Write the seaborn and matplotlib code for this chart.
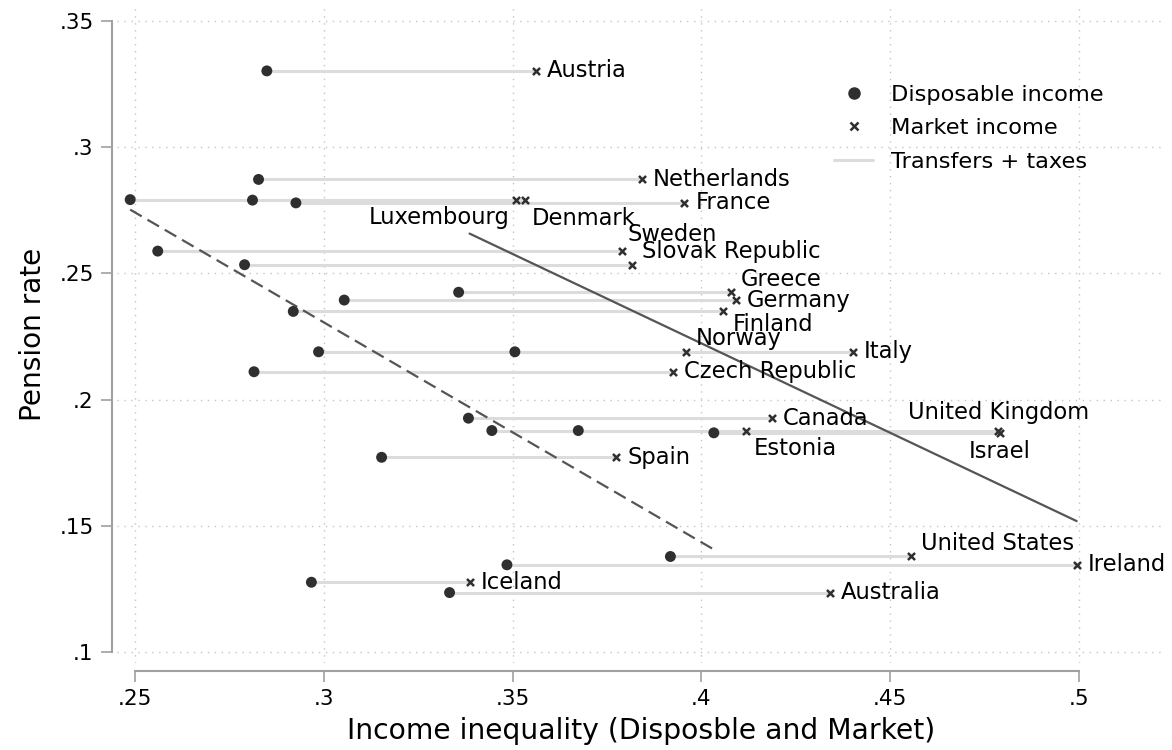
import numpy as np
import pandas as pd
import seaborn as sns
import matplotlib.pyplot as plt
from matplotlib.lines import Line2D

# Values
countries = ['Austria', 'Netherlands', 'Luxembourg', 'Denmark', 'France', 'Sweden',
             'Slovak Republic', 'Greece', 'Germany', 'Finland', 'Norway', 'Italy',
             'Czech Republic', 'Canada', 'Estonia', 'United Kingdom', 'Israel',
             'Spain', 'United States', 'Ireland', 'Iceland', 'Australia']
disposable = [0.2849, 0.2827, 0.2487, 0.2811, 0.2926, 0.2560,
              0.2790, 0.3357, 0.3054, 0.2919, 0.2986, 0.3506,
              0.2815, 0.3383, 0.3674, 0.3445, 0.4033,
              0.3153, 0.3918, 0.3485, 0.2967, 0.3333]
market = [0.3561, 0.3843, 0.3509, 0.3533, 0.3955, 0.3789,
          0.3817, 0.4078, 0.4092, 0.4056, 0.3958, 0.4402,
          0.3924, 0.4187, 0.4119, 0.4786, 0.4791,
          0.3774, 0.4556, 0.4994, 0.3386, 0.4341]
pension = [0.3302, 0.2872, 0.2792, 0.2790, 0.2779, 0.2588,
           0.2534, 0.2425, 0.2394, 0.2349, 0.2189, 0.2189,
           0.2110, 0.1926, 0.1877, 0.1877, 0.1868,
           0.1771, 0.1378, 0.1345, 0.1276, 0.1235]

x_ticks = [0.25, 0.30, 0.35, 0.40, 0.45, 0.50]
x_tick_labels = ['.25', '.3', '.35', '.4', '.45', '.5']
y_ticks = [0.10, 0.15, 0.20, 0.25, 0.30, 0.35]
y_tick_labels = ['.1', '.15', '.2', '.25', '.3', '.35']

df = pd.DataFrame({'country': countries, 'disp': disposable,
                   'market': market, 'pension': pension})

# label placement (Stata-like clock positions)
label_pos = {'Luxembourg': 7, 'Denmark': 5, 'Sweden': 1, 'Slovak Republic': 2,
             'Greece': 2, 'Finland': 4, 'Norway': 2, 'United Kingdom': 12,
             'Estonia': 5, 'Israel': 6, 'United States': 2}
# offsets in pixels -> (dx, dy, ha)
clock = {3: (11, 0, 'left'), 2: (10, 13, 'left'), 4: (10, -13, 'left'),
         1: (6, 17, 'left'), 5: (7, -18, 'left'), 7: (-7, -18, 'right'),
         12: (0, 18, 'center'), 6: (0, -19, 'center')}

sns.set_style('white')
plt.rcParams['font.family'] = ['DejaVu Sans']
plt.rcParams['text.color'] = 'black'
plt.rcParams['axes.labelcolor'] = 'black'

dark = '#2f2f2f'
fig, ax = plt.subplots(figsize=(11.72, 7.5), dpi=100)
fig.subplots_adjust(left=0.0998, right=0.994, bottom=0.116, top=0.9933)

# transfers + taxes segments
ax.hlines(df['pension'], df['disp'], df['market'], color='#dcdcdc', lw=2.2, zorder=2)

# linear fits
sns.regplot(data=df, x='disp', y='pension', scatter=False, ci=None, ax=ax,
            line_kws=dict(color='#555555', lw=1.6, ls=(0, (6, 3)), zorder=3))
sns.regplot(data=df, x='market', y='pension', scatter=False, ci=None, ax=ax,
            line_kws=dict(color='#555555', lw=1.6, zorder=3))

sns.scatterplot(data=df, x='disp', y='pension', marker='o', s=62, color=dark,
                edgecolor='none', ax=ax, zorder=5)
sns.scatterplot(data=df, x='market', y='pension', marker='x', s=26, color=dark,
                linewidth=1.8, ax=ax, zorder=5)

for _, r in df.iterrows():
    dx, dy, ha = clock[label_pos.get(r['country'], 3)]
    ax.annotate(r['country'], (r['market'], r['pension']),
                xytext=(dx * 0.72, dy * 0.72), textcoords='offset points',
                ha=ha, va='center', fontsize=16.3, color='black', zorder=6)

ax.set_xlim(0.2452, 0.5228)
ax.set_ylim(0.0956, 0.3563)
ax.set_xticks(x_ticks)
ax.set_xticklabels(x_tick_labels)
ax.set_yticks(y_ticks)
ax.set_yticklabels(y_tick_labels)
ax.tick_params(axis='both', left=True, bottom=True, labelsize=15.5, length=8,
               width=1.2, color='#a0a0a0', pad=5, labelcolor='black')
ax.grid(True, ls=(0, (1, 4)), color='#c4c4c4', lw=1.0)

for s in ['top', 'right']:
    ax.spines[s].set_visible(False)
ax.spines['left'].set_position(('outward', 3.8))
ax.spines['bottom'].set_position(('outward', 5.5))
ax.spines['left'].set_bounds(0.10, 0.35)
ax.spines['bottom'].set_bounds(0.25, 0.50)
for s in ['left', 'bottom']:
    ax.spines[s].set_color('#a0a0a0')
    ax.spines[s].set_linewidth(1.5)

ax.set_xlabel('Income inequality (Disposble and Market)', fontsize=20.3, labelpad=6)
ax.set_ylabel('Pension rate', fontsize=20.2, labelpad=9)

handles = [Line2D([], [], marker='o', ls='none', color=dark, markersize=8),
           Line2D([], [], marker='x', ls='none', color=dark, markersize=5.5, mew=1.8),
           Line2D([], [], color='#dcdcdc', lw=2.2)]
ax.legend(handles, ['Disposable income', 'Market income', 'Transfers + taxes'],
          loc='upper left', bbox_to_anchor=(0.6946, 0.914), bbox_transform=fig.transFigure,
          frameon=False, fontsize=16.2, handlelength=1.72, handletextpad=0.8,
          labelspacing=0.6)

plt.savefig('out.png', dpi=100)
